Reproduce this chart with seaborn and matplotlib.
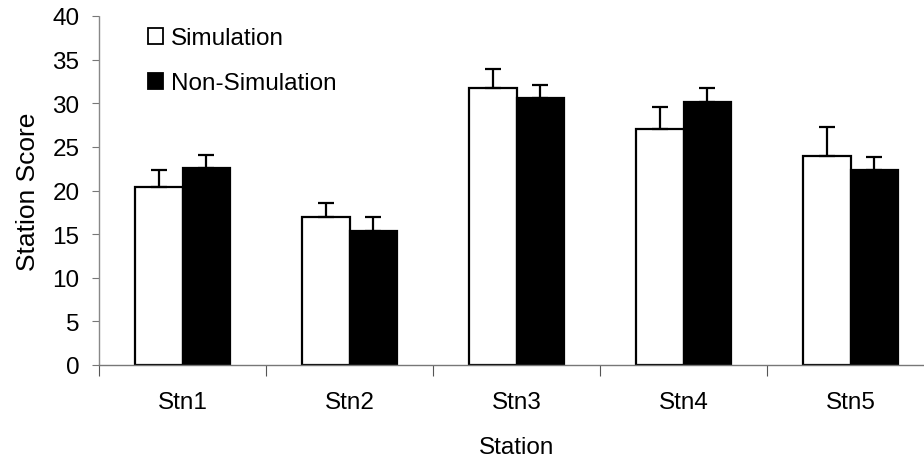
import numpy as np
import pandas as pd
import matplotlib
matplotlib.use("Agg")
import matplotlib.pyplot as plt
import matplotlib.transforms as mtransforms
import seaborn as sns
from matplotlib.patches import Patch

# Datos
stations = ["Stn1", "Stn2", "Stn3", "Stn4", "Stn5"]
sim_mean = [20.4, 17.0, 31.7, 27.0, 23.9]
sim_err = [2.0, 1.6, 2.2, 2.6, 3.4]
nonsim_mean = [22.6, 15.4, 30.6, 30.1, 22.3]
nonsim_err = [1.5, 1.6, 1.5, 1.6, 1.5]
groups = ["Simulation", "Non-Simulation"]

df = pd.DataFrame({
    "Station": stations * 2,
    "Group": [groups[0]] * 5 + [groups[1]] * 5,
    "Score": sim_mean + nonsim_mean,
})

sns.set_theme(style="white")
plt.rcParams["font.family"] = ["Liberation Sans", "DejaVu Sans"]
plt.rcParams["text.color"] = "black"
plt.rcParams["axes.labelcolor"] = "black"
plt.rcParams["ytick.color"] = "black"

FS = 17.5

fig = plt.figure(figsize=(9.24, 4.6), dpi=100)
ax = fig.add_axes([99 / 924, 1 - 366 / 460, 1 - 99 / 924, 349 / 460])

sns.barplot(data=df, x="Station", y="Score", hue="Group", order=stations,
            hue_order=groups, palette=["white", "black"], width=0.565,
            edgecolor="black", linewidth=1.6, errorbar=None, ax=ax,
            legend=False)

# Barras de error solo hacia arriba
errs = [sim_err, nonsim_err]
means = [sim_mean, nonsim_mean]
bar_containers = list(ax.containers)
for k, cont in enumerate(bar_containers):
    xs = [p.get_x() + p.get_width() / 2 for p in cont.patches]
    ax.errorbar(xs, means[k], yerr=[np.zeros(5), errs[k]], fmt="none",
                ecolor="black", elinewidth=1.6, capsize=6, capthick=1.6,
                zorder=1)

ax.set_xlim(-0.5, -0.5 + 825 / 167)
ax.set_ylim(0, 40)
ax.set_yticks(range(0, 41, 5))
ax.set_xticks([])
ax.set_xticks(np.arange(-0.5, 4.5, 1.0), minor=True)
ax.tick_params(axis="x", which="minor", length=8, width=0.8,
               color="#555555", direction="out", bottom=True)
ax.tick_params(axis="y", length=5, width=0.8, color="#777777",
               direction="out", left=True, labelsize=FS, pad=9)

trans = mtransforms.blended_transform_factory(ax.transData, ax.transAxes)
for i, s in enumerate(stations):
    ax.text(i, -0.106, s, ha="center", va="center", fontsize=FS,
            transform=trans)

ax.set_xlabel("")
ax.text(2.0, -0.235, "Station", ha="center", va="center", fontsize=FS,
        transform=trans)
ax.set_ylabel("Station Score", fontsize=19, labelpad=9)

for side in ["top", "right"]:
    ax.spines[side].set_visible(False)
ax.spines["left"].set_color("#888888")
ax.spines["left"].set_linestyle((0, (1, 1)))
ax.spines["left"].set_linewidth(1.0)
ax.spines["bottom"].set_color("#777777")
ax.spines["bottom"].set_linewidth(1.0)

# Leyenda
handles = [Patch(facecolor="white", edgecolor="black", linewidth=1.3),
           Patch(facecolor="black", edgecolor="black", linewidth=1.3)]
ax.legend(handles, groups, loc="upper left", bbox_to_anchor=(0.033, 1.03),
          frameon=False, fontsize=FS, handlelength=0.6, handleheight=0.6,
          handletextpad=0.35, labelspacing=0.95)

fig.savefig("out.png", dpi=100)
